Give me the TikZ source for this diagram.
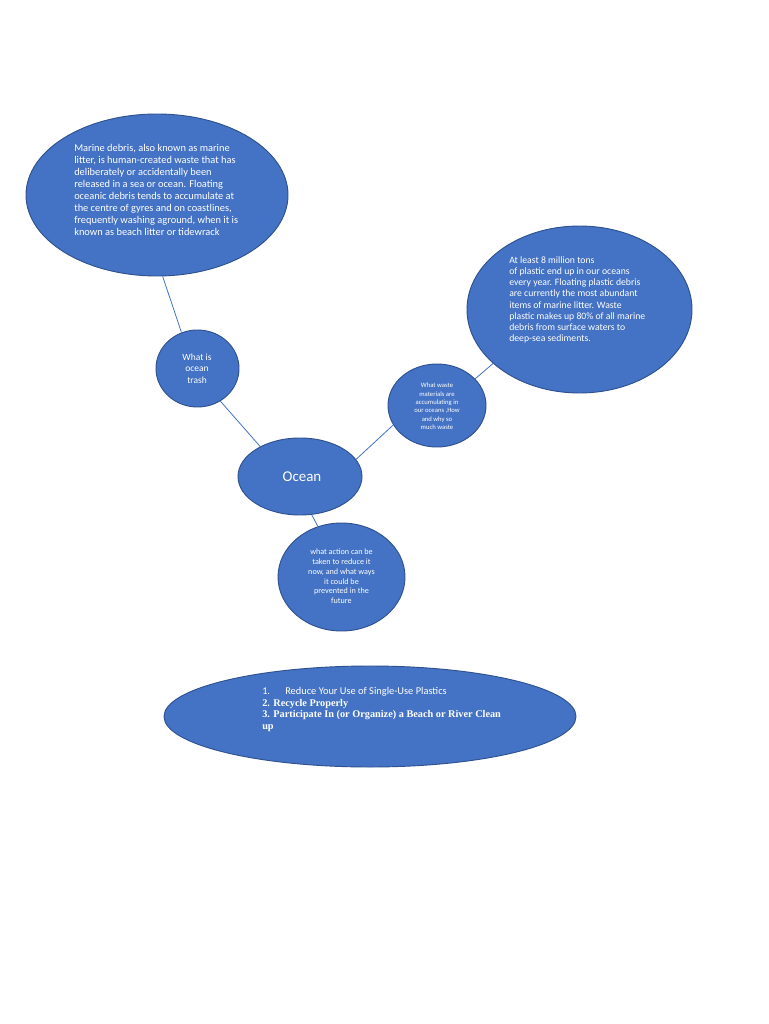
\documentclass[tikz,border=0pt]{standalone}
\usepackage{fontspec}
\setmainfont{Carlito}
\newfontfamily\tnr{Liberation Serif}
\usetikzlibrary{shapes.geometric}
\definecolor{oblue}{HTML}{4472C4}
\definecolor{oedge}{HTML}{2F528F}
\tikzset{
  bubble/.style={ellipse, draw=oedge, line width=0.7pt, fill=oblue, inner sep=0pt},
  conn/.style={draw=oblue, line width=0.6pt},
  btext/.style={text=white, inner sep=0pt}
}
\begin{document}
\begin{tikzpicture}[x=0.75pt,y=-0.75pt]
\useasboundingbox[fill=white] (0,0) rectangle (768,1024);
% ellipses
\node[bubble, minimum width=196.5pt, minimum height=121.5pt] (md) at (157,195) {};
\node[bubble, minimum width=168.75pt, minimum height=125.25pt] (mt) at (579.5,309.5) {};
\node[bubble, minimum width=62.25pt, minimum height=57.75pt] (wt) at (197.5,368.5) {};
\node[bubble, minimum width=73.5pt, minimum height=62.25pt] (ww) at (437,405.5) {};
\node[bubble, minimum width=93pt, minimum height=57.75pt] (oc) at (300,476.5) {};
\node[bubble, minimum width=95.25pt, minimum height=81pt] (ac) at (341.5,577) {};
\node[bubble, minimum width=309pt, minimum height=75.75pt] (bt) at (370,716.5) {};
% connectors
\draw[conn] (md.274) -- (wt.114);
\draw[conn] (wt.305) -- (oc.143);
\draw[conn] (oc.17) -- (ww.204);
\draw[conn] (ww.35) -- (mt.212);
\draw[conn] (oc.287) -- (ac.115);
% texts
\node[btext, anchor=north west, align=left, font=\fontsize{7.8}{9}\selectfont] (mdt) at (74,144.5)
 {Marine debris, also known as marine\\litter, is human-created waste that has\\deliberately or accidentally been\\released in a sea or ocean. Floating\\oceanic debris tends to accumulate at\\the centre of gyres and on coastlines,\\frequently washing aground, when it is\\known as beach litter or tidewrack};
\node[btext, anchor=north west, align=left, font=\fontsize{7.3}{8.45}\selectfont] (mtt) at (509,256)
 {At least 8 million tons\\of plastic end up in our oceans\\every year. Floating plastic debris\\are currently the most abundant\\items of marine litter. Waste\\plastic makes up 80\% of all marine\\debris from surface waters to\\deep-sea sediments.};
\node[btext, align=center, font=\fontsize{7.1}{8.6}\selectfont] (wtt) at (197,368.5)
 {What is\\ocean\\trash};
\node[btext, align=center, font=\fontsize{5}{6.3}\selectfont] (wwt) at (437,406.5)
 {What waste\\materials are\\accumulating in\\our oceans ,How\\and why so\\much waste};
\node[btext, font=\fontsize{11.2}{13}\selectfont] (oct) at (302,477) {Ocean};
\node[btext, align=center, font=\fontsize{6.1}{7.35}\selectfont] (act) at (341.5,576.5)
 {what action can be\\taken to reduce it\\now, and what ways\\it could be\\prevented in the\\future};
\node[btext, anchor=north west, align=left, font=\fontsize{7.7}{8.7}\selectfont] (btt) at (262,687)
 {\makebox[17.25pt][l]{1.}\fontsize{7.8}{8.7}\selectfont Reduce Your Use of Single-Use Plastics\\
  {\tnr\bfseries 2. Recycle Properly}\\
  {\tnr\bfseries 3. Participate In (or Organize) a Beach or River Clean}\\
  {\tnr\bfseries up}};
\end{tikzpicture}
\end{document}
